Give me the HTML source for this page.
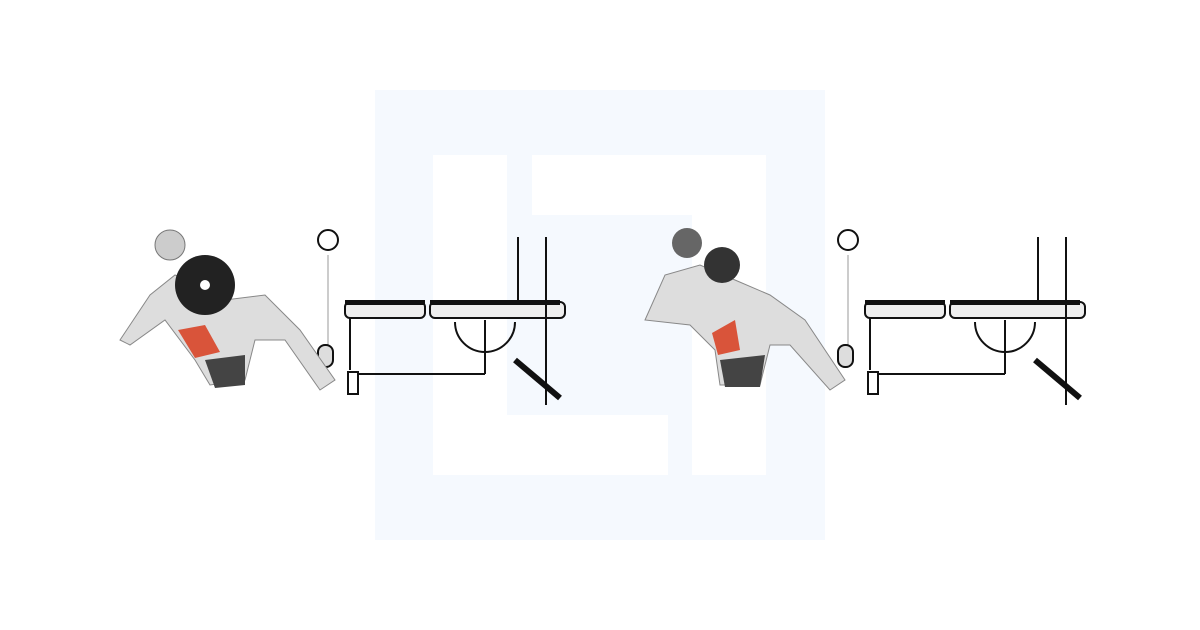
<!DOCTYPE html>
<html><head><meta charset="utf-8"><style>
html,body{margin:0;padding:0;background:#fff;width:1200px;height:630px;overflow:hidden}
svg{display:block}
</style></head><body>
<svg width="1200" height="630" viewBox="0 0 1200 630">
<g>
<rect x="375" y="90" width="450" height="450" fill="#f5f9fe"/>
<rect x="433" y="155" width="74" height="320" fill="#fff"/>
<rect x="433" y="415" width="235" height="60" fill="#fff"/>
<rect x="532" y="155" width="234" height="60" fill="#fff"/>
<rect x="692" y="155" width="74" height="320" fill="#fff"/>
</g>
<defs>
<g id="bench">
<circle cx="328" cy="240" r="10" fill="#fff" stroke="#111" stroke-width="2"/>
<line x1="328" y1="255" x2="328" y2="345" stroke="#ccc" stroke-width="2"/>
<rect x="345" y="302" width="80" height="16" rx="5" fill="#eee" stroke="#111" stroke-width="2"/>
<rect x="345" y="300" width="80" height="5" fill="#111"/>
<rect x="430" y="302" width="135" height="16" rx="5" fill="#eee" stroke="#111" stroke-width="2"/>
<rect x="430" y="300" width="130" height="5" fill="#111"/>
<line x1="518" y1="237" x2="518" y2="302" stroke="#111" stroke-width="2"/>
<line x1="546" y1="237" x2="546" y2="405" stroke="#111" stroke-width="2"/>
<line x1="355" y1="374" x2="485" y2="374" stroke="#111" stroke-width="2"/>
<line x1="485" y1="320" x2="485" y2="374" stroke="#111" stroke-width="2"/>
<path d="M455 322 A30 30 0 0 0 515 322" fill="none" stroke="#111" stroke-width="2"/>
<line x1="515" y1="360" x2="560" y2="398" stroke="#111" stroke-width="6"/>
<rect x="318" y="345" width="15" height="22" rx="7" fill="#ddd" stroke="#111" stroke-width="2"/>
<rect x="348" y="372" width="10" height="22" fill="#fff" stroke="#111" stroke-width="2"/>
<line x1="350" y1="318" x2="350" y2="370" stroke="#111" stroke-width="2"/>
</g>
</defs>
<use href="#bench"/>
<use href="#bench" transform="translate(520,0)"/>
<g>
<path d="M120 340 L150 295 L175 275 L200 285 L225 300 L265 295 L300 330 L335 380 L320 390 L285 340 L255 340 L245 380 L210 385 L195 360 L165 320 L130 345 Z" fill="#ddd" stroke="#888" stroke-width="1"/>
<circle cx="170" cy="245" r="15" fill="#ccc" stroke="#777"/>
<circle cx="205" cy="285" r="30" fill="#222"/>
<circle cx="205" cy="285" r="5" fill="#fff"/>
<path d="M178 330 L205 325 L220 352 L195 358 Z" fill="#d9543a"/>
<path d="M205 360 L245 355 L245 385 L215 388 Z" fill="#444"/>
</g>
<g>
<path d="M645 320 L665 275 L700 265 L735 280 L770 295 L805 320 L845 380 L830 390 L790 345 L770 345 L760 385 L720 385 L715 350 L690 325 Z" fill="#ddd" stroke="#888" stroke-width="1"/>
<circle cx="687" cy="243" r="15" fill="#666"/>
<circle cx="722" cy="265" r="18" fill="#333"/>
<path d="M712 333 L735 320 L740 350 L718 355 Z" fill="#d9543a"/>
<path d="M720 360 L765 355 L760 387 L725 387 Z" fill="#444"/>
</g>
</svg>
</body></html>
